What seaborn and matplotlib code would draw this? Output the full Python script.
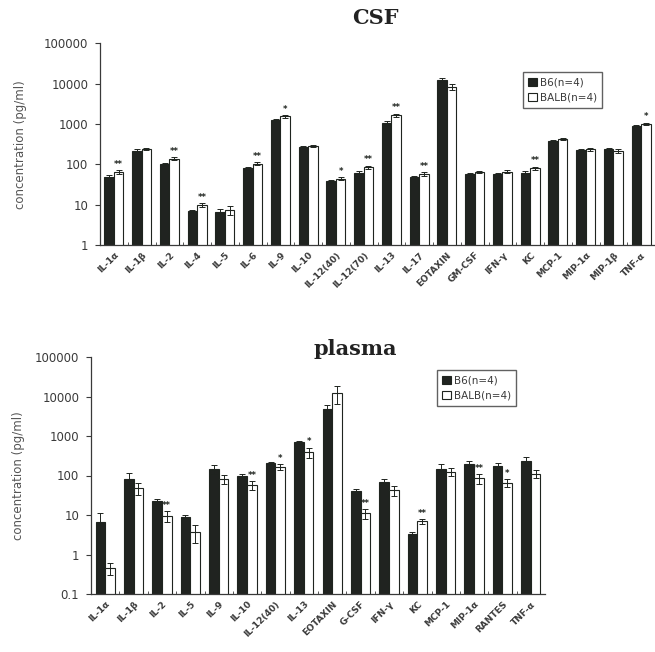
import numpy as np
import pandas as pd
import matplotlib
matplotlib.use("Agg")
import matplotlib.pyplot as plt
import seaborn as sns
from matplotlib.ticker import FixedLocator, FuncFormatter

# ---------------- data ----------------
csf_cats = ["IL-1α", "IL-1β", "IL-2", "IL-4", "IL-5", "IL-6", "IL-9", "IL-10",
            "IL-12(40)", "IL-12(70)", "IL-13", "IL-17", "EOTAXIN", "GM-CSF",
            "IFN-γ", "KC", "MCP-1", "MIP-1α", "MIP-1β", "TNF-α"]
csf_b6 = [50, 220, 100, 7, 6.5, 80, 1250, 270, 38, 62, 1050, 48, 12500, 58, 58, 62, 380, 225, 235, 900]
csf_balb = [65, 240, 140, 10, 7.5, 105, 1550, 285, 44, 85, 1650, 58, 8500, 65, 66, 80, 430, 235, 220, 1020]
csf_b6_err = [4, 15, 8, 0.6, 1.2, 6, 100, 20, 3, 5, 120, 4, 1200, 4, 4, 5, 25, 15, 25, 60]
csf_balb_err = [6, 15, 12, 1.0, 1.8, 10, 120, 20, 4, 8, 150, 5, 1500, 5, 6, 8, 25, 15, 25, 70]
csf_stars = ["**", "", "**", "**", "", "**", "*", "", "*", "**", "**", "**", "", "", "", "**", "", "", "", "*"]

pl_cats = ["IL-1α", "IL-1β", "IL-2", "IL-5", "IL-9", "IL-10", "IL-12(40)", "IL-13",
           "EOTAXIN", "G-CSF", "IFN-γ", "KC", "MCP-1", "MIP-1α", "RANTES", "TNF-α"]
pl_b6 = [6.5, 82, 22, 8.8, 145, 95, 205, 700, 4700, 40, 68, 3.3, 150, 200, 175, 230]
pl_balb = [0.45, 48, 9.5, 3.8, 82, 58, 165, 390, 12500, 11, 42, 7, 125, 85, 65, 110]
pl_b6_err = [4.5, 35, 3, 1, 35, 12, 20, 60, 1500, 5, 12, 0.4, 40, 30, 30, 60]
pl_balb_err = [0.15, 15, 3, 1.8, 20, 15, 25, 120, 6000, 3, 12, 1, 30, 25, 15, 25]
pl_stars = ["", "", "**", "", "", "**", "*", "*", "", "**", "", "**", "", "**", "*", ""]

strains = ["B6(n=4)", "BALB(n=4)"]
DARK = "#1f241f"
TXT = "#3a3a3a"

plt.rcParams["font.family"] = ["DejaVu Sans"]

fig = plt.figure(figsize=(6.55, 6.52), dpi=100)
fig.patch.set_facecolor("white")


def panel(rect, cats, b6, balb, b6e, balbe, stars, ylim, yticks, legend_anchor,
          width, ylabelpad):
    ax = fig.add_axes(rect)
    df = pd.DataFrame({
        "cat": cats * 2,
        "strain": [strains[0]] * len(cats) + [strains[1]] * len(cats),
        "val": list(b6) + list(balb),
    })
    sns.barplot(data=df, x="cat", y="val", hue="strain", order=cats,
                hue_order=strains, palette={strains[0]: DARK, strains[1]: "white"},
                edgecolor=DARK, linewidth=0.8, width=width, errorbar=None,
                ax=ax, legend=True)
    ax.set_yscale("log")
    ax.set_ylim(*ylim)
    errs = [b6e, balbe]
    for cont, err in zip(ax.containers, errs):
        xs = [p.get_x() + p.get_width() / 2 for p in cont.patches]
        ys = [p.get_height() for p in cont.patches]
        ax.errorbar(xs, ys, yerr=err, fmt="none", ecolor=DARK, elinewidth=0.7,
                    capsize=2, capthick=0.7)
    # significance stars above BALB bars
    cont = ax.containers[1]
    for p, s, v, e in zip(cont.patches, stars, balb, balbe):
        if s:
            ax.text(p.get_x() + p.get_width() / 2, (v + e) * 1.08, s,
                    ha="center", va="bottom", fontsize=6, color=DARK,
                    fontweight="bold")
    for sp in ["top", "right"]:
        ax.spines[sp].set_visible(False)
    for sp in ["left", "bottom"]:
        ax.spines[sp].set_color(TXT)
        ax.spines[sp].set_linewidth(0.9)
    ax.yaxis.set_major_locator(FixedLocator(yticks))
    ax.yaxis.set_minor_locator(FixedLocator([]))
    ax.yaxis.set_major_formatter(FuncFormatter(
        lambda v, pos: ("%g" % v) if v < 1 else "%d" % int(round(v))))
    ax.tick_params(axis="y", labelsize=8.5, colors=TXT, length=3.5, width=0.8,
                   pad=5)
    n = len(cats)
    ax.set_xlim(-0.5, n - 0.5)
    ax.set_xticks(range(n))
    ax.set_xticklabels(cats, rotation=45, ha="right", rotation_mode="anchor",
                       fontsize=6.5, color=TXT, fontweight="bold")
    ax.xaxis.set_minor_locator(FixedLocator(np.arange(0.5, n - 0.5, 1)))
    ax.tick_params(axis="x", which="major", length=0, pad=4)
    ax.tick_params(axis="x", which="minor", length=2.5, direction="in", color=TXT)
    ax.set_xlabel("")
    ax.set_ylabel("concentration (pg/ml)", fontsize=8.5, color="#555555",
                  labelpad=ylabelpad)
    leg = ax.legend(loc="upper left", bbox_to_anchor=legend_anchor,
                    bbox_transform=fig.transFigure, fontsize=7.5, frameon=True,
                    fancybox=False, edgecolor=TXT, handlelength=0.8,
                    handleheight=0.8, handletextpad=0.3, borderpad=0.5,
                    labelspacing=0.5, labelcolor=TXT)
    leg.get_frame().set_linewidth(1.0)
    ax.set_facecolor("white")
    return ax


ax1 = panel([100 / 655, 1 - 245 / 652, 555 / 655, (245 - 43.5) / 652],
            csf_cats, csf_b6, csf_balb, csf_b6_err, csf_balb_err, csf_stars,
            (1, 100000), [1, 10, 100, 1000, 10000, 100000],
            (518 / 655, 1 - 67 / 652), 0.68, 12)
ax2 = panel([91 / 655, 1 - 594 / 652, 454 / 655, (594 - 357) / 652],
            pl_cats, pl_b6, pl_balb, pl_b6_err, pl_balb_err, pl_stars,
            (0.1, 100000), [0.1, 1, 10, 100, 1000, 10000, 100000],
            (432 / 655, 1 - 365 / 652), 0.68, 7)

fig.text(375 / 655, 1 - 18 / 652, "CSF", ha="center", va="center",
         fontsize=15, fontweight="bold", family="DejaVu Serif", color="#222")
fig.text(355 / 655, 1 - 349 / 652, "plasma", ha="center", va="center",
         fontsize=15, fontweight="bold", family="DejaVu Serif", color="#222")

fig.savefig("out.png", dpi=100, facecolor="white")
